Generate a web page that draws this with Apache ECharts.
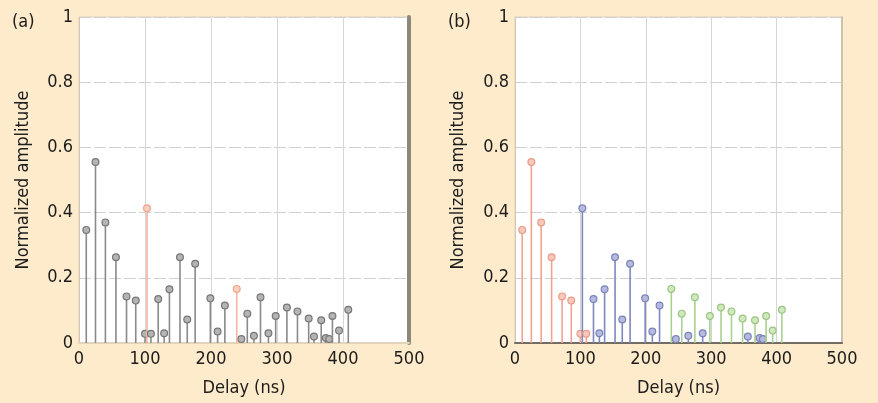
<!DOCTYPE html>
<html>
<head>
<meta charset="utf-8">
<script src="https://cdn.jsdelivr.net/npm/echarts@6/dist/echarts.min.js"></script>
<style>
  html, body { margin: 0; padding: 0; background: #fdebcc; }
  #chart { width: 878px; height: 403px; }
</style>
</head>
<body>
<div id="chart"></div>
<script>
// Power delay profile: path delays (ns) and normalized amplitudes
const delays = [11, 25, 40, 56, 72, 86, 100, 103, 109, 120, 129, 137, 153, 164, 176, 199, 210, 221,
                239, 246, 255, 265, 275, 287, 298, 315, 331, 348, 356, 367, 374, 379, 384, 394, 408];
const amps = [0.347, 0.555, 0.37, 0.263, 0.143, 0.13, 0.028, 0.413, 0.028, 0.135, 0.03, 0.165, 0.263, 0.072, 0.243, 0.137, 0.035, 0.115,
              0.166, 0.012, 0.09, 0.022, 0.14, 0.03, 0.083, 0.109, 0.097, 0.075, 0.02, 0.07, 0.015, 0.012, 0.083, 0.038, 0.102];
// (a): 1 marks the first arrival of a later cluster
const firstArrival = [0, 0, 0, 0, 0, 0, 0, 1, 0, 0, 0, 0, 0, 0, 0, 0, 0, 0,
                      1, 0, 0, 0, 0, 0, 0, 0, 0, 0, 0, 0, 0, 0, 0, 0, 0];
// (b): cluster each path belongs to
const cluster = [0, 0, 0, 0, 0, 0, 0, 1, 0, 1, 1, 1, 1, 1, 1, 1, 1, 1,
                 2, 1, 2, 1, 2, 1, 2, 2, 2, 2, 1, 2, 1, 1, 2, 2, 2];
const xTicks = [0, 100, 200, 300, 400, 500];
const yTicks = [0, 0.2, 0.4, 0.6, 0.8, 1];

const paletteA = [
  { stem: '#8a8a8a', fill: '#b4b4b4', edge: '#767676' },
  { stem: '#f4b59c', fill: '#f9d0bf', edge: '#eea488' }
];
const paletteB = [
  { stem: '#f0a391', fill: '#f7c8bb', edge: '#ea9a86' },
  { stem: '#7f87bf', fill: '#b6badd', edge: '#7a82ba' },
  { stem: '#a9d18f', fill: '#d0e7c0', edge: '#99c67e' }
];

const FONT = "'DejaVu Sans Condensed', 'Liberation Sans Narrow', 'DejaVu Sans', sans-serif";

function stemRenderer(palette) {
  return function (params, api) {
    const x = api.value(0), y = api.value(1), g = api.value(2);
    const c = palette[g];
    const base = api.coord([x, 0]);
    const top = api.coord([x, y]);
    return {
      type: 'group',
      children: [
        { type: 'line', shape: { x1: base[0], y1: base[1], x2: top[0], y2: top[1] },
          style: { stroke: c.stem, lineWidth: 1.6 } },
        { type: 'circle', shape: { cx: top[0], cy: top[1], r: 3.4 },
          style: { fill: c.fill, stroke: c.edge, lineWidth: 1.2 } }
      ]
    };
  };
}

const grids = [
  { left: 79, top: 17, width: 330, height: 326 },
  { left: 515, top: 17, width: 327, height: 326 }
];

function xAxisFor(i, lineColor, lineWidth) {
  return {
    type: 'value', gridIndex: i, min: 0, max: 500, interval: 100,
    name: 'Delay (ns)', nameLocation: 'middle', nameGap: 36,
    nameTextStyle: { fontFamily: FONT, fontSize: 18, color: '#1c1c1c' },
    axisLine: { show: true, lineStyle: { color: lineColor, width: lineWidth } },
    axisTick: { show: false },
    axisLabel: { fontFamily: FONT, fontSize: 18, color: '#1c1c1c', margin: 7,
                 formatter: v => xTicks.includes(v) ? String(v) : '' },
    splitLine: { show: true, lineStyle: { color: '#d6d6d6', width: 1 } }
  };
}
function yAxisFor(i, gap) {
  return {
    type: 'value', gridIndex: i, min: 0, max: 1, interval: 0.2,
    name: 'Normalized amplitude', nameLocation: 'middle', nameGap: gap,
    nameTextStyle: { fontFamily: FONT, fontSize: 18, color: '#1c1c1c' },
    axisLine: { show: true, lineStyle: { color: '#d2c8b6', width: 1 } },
    axisTick: { show: false },
    axisLabel: { fontFamily: FONT, fontSize: 18, color: '#1c1c1c', margin: 6,
                 formatter: v => {
                   const t = yTicks.find(k => Math.abs(k - v) < 1e-9);
                   return t === undefined ? '' : String(t);
                 } },
    splitLine: { show: true, lineStyle: { color: '#d0d0d0', width: 1, type: [12, 3] } }
  };
}

const chart = echarts.init(document.getElementById('chart'), null, { renderer: 'canvas' });
chart.setOption({
  backgroundColor: '#fdebcc',
  animation: false,
  title: [
    { text: '(a)', left: 7, top: 8, textStyle: { fontFamily: FONT, fontSize: 18, fontWeight: 'normal', color: '#1c1c1c' } },
    { text: '(b)', left: 443, top: 8, textStyle: { fontFamily: FONT, fontSize: 18, fontWeight: 'normal', color: '#1c1c1c' } }
  ],
  grid: grids.map(g => Object.assign({ show: true, backgroundColor: '#ffffff', borderColor: '#dcd2c0', borderWidth: 1 }, g)),
  xAxis: [xAxisFor(0, '#e2d4b8', 2), xAxisFor(1, '#736c63', 2)],
  yAxis: [
    yAxisFor(0, 47),
    yAxisFor(1, 48),
    // shaded right edge of panel (a)
    { type: 'value', gridIndex: 0, position: 'right', min: 0, max: 1,
      axisLine: { show: true, lineStyle: { color: '#8d877d', width: 4 } },
      axisTick: { show: false }, axisLabel: { show: false }, splitLine: { show: false } },
    // right edge of panel (b)
    { type: 'value', gridIndex: 1, position: 'right', min: 0, max: 1,
      axisLine: { show: true, lineStyle: { color: '#cfc2aa', width: 2 } },
      axisTick: { show: false }, axisLabel: { show: false }, splitLine: { show: false } }
  ],
  series: [
    { type: 'custom', xAxisIndex: 0, yAxisIndex: 0, renderItem: stemRenderer(paletteA),
      data: delays.map((d, i) => [d, amps[i], firstArrival[i]]), clip: false },
    { type: 'custom', xAxisIndex: 1, yAxisIndex: 1, renderItem: stemRenderer(paletteB),
      data: delays.map((d, i) => [d, amps[i], cluster[i]]), clip: false }
  ]
});
</script>
</body>
</html>
